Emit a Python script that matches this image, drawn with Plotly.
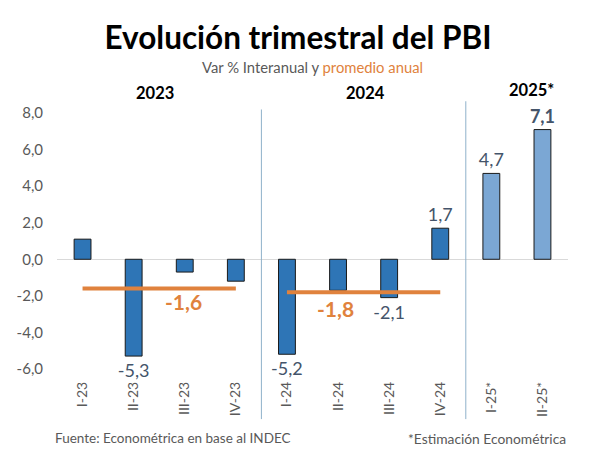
import plotly.graph_objects as go

# Datos
trimestres = ["I-23", "II-23", "III-23", "IV-23",
              "I-24", "II-24", "III-24", "IV-24",
              "I-25*", "II-25*"]
var_interanual = [1.1, -5.3, -0.7, -1.2, -5.2, -1.7, -2.1, 1.7, 4.7, 7.1]
mostrar_etiqueta = [False, True, False, False, True, False, True, True, True, True]
estimado = [False] * 8 + [True, True]

anios = ["2023", "2024", "2025*"]
trimestres_2023 = trimestres[0:4]
trimestres_2024 = trimestres[4:8]
promedio_2023 = -1.6
promedio_2024 = -1.8

y_ticks = [-6, -4, -2, 0, 2, 4, 6, 8]
y_ticktext = ["-6,0", "-4,0", "-2,0", "0,0", "2,0", "4,0", "6,0", "8,0"]

fuente = "Lato"
azul = "#2E75B6"
azul_claro = "#7BA7D4"
naranja = "#E0823D"
gris = "#595959"
texto_dato = "#44546A"


def fmt(v):
    return f"{v:.1f}".replace(".", ",")


etiquetas = []
for i, v in enumerate(var_interanual):
    if not mostrar_etiqueta[i]:
        etiquetas.append("")
    elif i == len(var_interanual) - 1:
        etiquetas.append(f"<b>{fmt(v)}</b>")
    else:
        etiquetas.append(fmt(v))

fig = go.Figure()

fig.add_trace(go.Bar(
    x=trimestres, y=var_interanual,
    marker=dict(color=[azul_claro if e else azul for e in estimado],
                line=dict(color="#1a1a1a", width=1)),
    width=0.33,
    text=etiquetas, textposition="outside", cliponaxis=False,
    constraintext="none",
    textfont=dict(family=fuente, size=18, color=texto_dato),
    hoverinfo="skip",
))

for xs, prom in [(trimestres_2023, promedio_2023), (trimestres_2024, promedio_2024)]:
    fig.add_trace(go.Scatter(
        x=[xs[0], xs[-1]], y=[prom, prom], mode="lines",
        line=dict(color=naranja, width=4), hoverinfo="skip",
    ))

# promedios anuales
fig.add_annotation(x=1.97, y=promedio_2023, text=f"<b>{fmt(promedio_2023)}</b>",
                   showarrow=False, yanchor="top", yshift=1,
                   font=dict(family=fuente, size=21, color=naranja))
fig.add_annotation(x=4.95, y=promedio_2024, text=f"<b>{fmt(promedio_2024)}</b>",
                   showarrow=False, yanchor="top", yshift=-2,
                   font=dict(family=fuente, size=21, color=naranja))

# separadores entre años
fig.add_shape(type="line", x0=3.5, x1=3.5, yref="paper", y0=-0.15, y1=0.98,
              line=dict(color="#8FB1CA", width=1))
fig.add_shape(type="line", x0=7.5, x1=7.5, yref="paper", y0=-0.15, y1=1.01,
              line=dict(color="#8FB1CA", width=1))

# años
for anio, xpos, ypos in zip(anios, [1.42, 5.53, 8.78], [1.04, 1.04, 1.052]):
    fig.add_annotation(x=xpos, xanchor="center", yref="paper", y=ypos, yanchor="middle",
                       text=f"<b>{anio}</b>", showarrow=False,
                       font=dict(family=fuente, size=16.5, color="black"))

fig.add_annotation(xref="paper", x=0.5, xanchor="center", yref="paper", y=1.135,
                   yanchor="middle",
                   text=f"Var % Interanual y <span style='color:{naranja}'>promedio anual</span>",
                   showarrow=False, font=dict(family=fuente, size=14.8, color=gris))

fig.add_annotation(xref="paper", x=-0.008, xanchor="left", yref="paper", y=-0.22,
                   yanchor="middle",
                   text="Fuente: Econométrica en base al INDEC", showarrow=False,
                   font=dict(family=fuente, size=13.5, color=gris))
fig.add_annotation(xref="paper", x=1.0, xanchor="right", yref="paper", y=-0.22,
                   yanchor="middle",
                   text="*Estimación Econométrica", showarrow=False,
                   font=dict(family=fuente, size=13.8, color=gris))

# la página deja 8 px de margen en el body: se compensa en los márgenes
fig.update_layout(
    width=592, height=463,
    margin=dict(l=49, r=32, t=96, b=93),
    paper_bgcolor="white", plot_bgcolor="white",
    showlegend=False,
    separators=",.",
    title=dict(text="<b>Evolución trimestral del PBI</b>", x=0.49, xanchor="center",
               y=0.935, yanchor="middle", yref="container",
               font=dict(family=fuente, size=31.5, color="black")),
    xaxis=dict(type="category", tickangle=-90, showgrid=False, showline=False,
               ticks="", automargin=False,
               tickfont=dict(family=fuente, size=14, color=gris),
               range=[-0.5, 9.5]),
    yaxis=dict(range=[-6.5, 8.5], tickvals=y_ticks, ticktext=y_ticktext,
               showgrid=False, zeroline=True,
               zerolinecolor="#D9D9D9", zerolinewidth=1.3,
               ticklabelstandoff=13, automargin=False,
               tickfont=dict(family=fuente, size=15, color=gris)),
)

fig.write_html("out.html")
